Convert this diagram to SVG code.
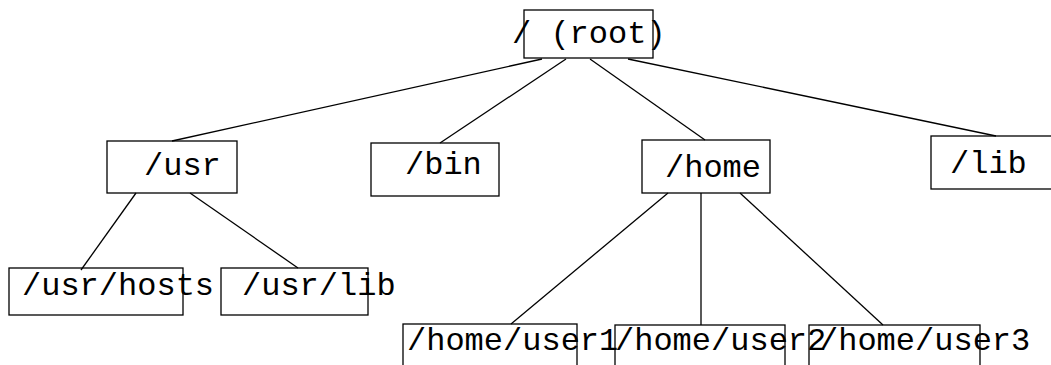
<svg xmlns="http://www.w3.org/2000/svg" width="1051" height="365" viewBox="0 0 1051 365">
  <style>
    .box { fill: none; stroke: #000; stroke-width: 1.3; }
    .lbl { font-family: "Liberation Mono", "Courier New", monospace; font-size: 32px; fill: #000; }
    .edge { stroke: #000; stroke-width: 1.3; fill: none; }
  </style>
  <rect width="1051" height="365" fill="#fff"/>

  <!-- tree edges -->
  <g id="connectors">
    <line class="edge" x1="542" y1="59" x2="172" y2="141"/>
    <line class="edge" x1="566" y1="59" x2="440" y2="143"/>
    <line class="edge" x1="590" y1="59" x2="705" y2="140"/>
    <line class="edge" x1="628" y1="59" x2="996" y2="136"/>
    <line class="edge" x1="136" y1="193" x2="81" y2="270"/>
    <line class="edge" x1="190" y1="193" x2="298" y2="268"/>
    <line class="edge" x1="668" y1="193" x2="511" y2="324"/>
    <line class="edge" x1="701" y1="193" x2="701" y2="325"/>
    <line class="edge" x1="740" y1="193" x2="883" y2="325"/>
  </g>

  <g id="root">
    <rect class="box" x="524" y="10" width="129" height="48"/>
    <text class="lbl" x="512" y="43">/ (root)</text>
  </g>
  <g id="usr">
    <rect class="box" x="107" y="141" width="130" height="52"/>
    <text class="lbl" x="144" y="175">/usr</text>
  </g>
  <g id="bin">
    <rect class="box" x="371" y="143" width="128" height="53"/>
    <text class="lbl" x="405" y="174">/bin</text>
  </g>
  <g id="home">
    <rect class="box" x="642" y="140" width="128" height="53"/>
    <text class="lbl" x="665" y="177">/home</text>
  </g>
  <g id="lib">
    <rect class="box" x="931" y="136" width="130" height="53"/>
    <text class="lbl" x="950" y="173">/lib</text>
  </g>
  <g id="usr-hosts">
    <rect class="box" x="9" y="268" width="174" height="47"/>
    <text class="lbl" x="22" y="295">/usr/hosts</text>
  </g>
  <g id="usr-lib">
    <rect class="box" x="221" y="268" width="147" height="47"/>
    <text class="lbl" x="242" y="295">/usr/lib</text>
  </g>
  <g id="home-user1">
    <rect class="box" x="403" y="324" width="174" height="50"/>
    <text class="lbl" x="407" y="350">/home/user1</text>
  </g>
  <g id="home-user2">
    <rect class="box" x="615" y="325" width="170" height="50"/>
    <text class="lbl" x="615" y="350">/home/user2</text>
  </g>
  <g id="home-user3">
    <rect class="box" x="809" y="325" width="171" height="50"/>
    <text class="lbl" x="819" y="350">/home/user3</text>
  </g>
</svg>
